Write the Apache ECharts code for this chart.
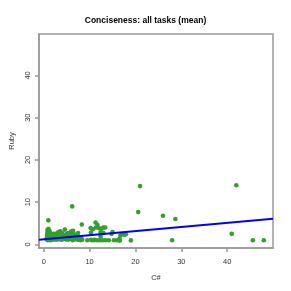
<!DOCTYPE html>
<html>
<head>
<meta charset="utf-8">
<script src="https://cdn.jsdelivr.net/npm/echarts@6/dist/echarts.min.js"></script>
<style>
html,body{margin:0;padding:0;background:#fff;}
#chart{width:291px;height:291px;}
</style>
</head>
<body>
<div id="chart"></div>
<script>
const titleText = 'Conciseness: all tasks (mean)';
const xName = 'C#';
const yName = 'Ruby';
const tickValues = [0, 10, 20, 30, 40];
const axisRange = [-1.06, 50.0];
const yAxisRange = [-0.85, 49.8];

// Ratio values per task: C# (x) and Ruby (y)
const csharp = [
  0.6,0.7,0.7,0.8,0.8,0.9,0.9,0.9,1.0,1.0,1.0,1.1,1.1,1.2,1.2,1.2,1.3,1.3,1.4,1.4,
  1.5,1.5,1.6,1.7,1.7,1.8,1.9,2.0,2.0,2.1,2.2,2.3,2.4,2.5,2.6,2.7,2.8,2.9,3.0,3.1,
  3.2,3.3,3.4,3.5,3.6,3.7,3.8,3.9,4.0,4.1,4.2,4.3,4.4,4.5,4.6,4.7,4.8,4.9,5.0,5.1,
  5.2,5.3,5.4,5.5,5.6,5.7,5.8,5.9,6.0,6.1,6.2,6.3,6.4,6.5,6.6,6.7,6.8,7.0,7.2,7.4,
  7.5,7.6,7.8,8.0,8.2,8.4,
  1.0,6.2,8.3,
  9.5,10.2,10.3,10.3,10.5,10.7,11.0,11.0,11.3,11.4,11.6,11.7,12.0,12.2,12.4,12.4,12.6,12.8,13.0,13.0,
  13.4,13.5,14.2,14.8,15.0,15.3,16.0,16.5,16.6,16.7,17.0,17.6,17.9,19.0,
  20.6,21.0,26.0,28.0,28.7,41.0,42.0,45.6,48.0
];
const ruby = [
  1.2,1.6,2.2,2.8,3.4,1.0,1.9,2.5,3.1,3.7,1.4,2.0,2.7,1.1,3.3,2.3,1.7,2.9,1.3,2.1,
  2.6,1.0,1.8,2.4,1.2,2.0,1.5,2.2,1.1,1.8,2.5,1.3,2.0,1.6,2.3,1.1,1.9,2.6,1.4,2.1,
  2.9,1.2,1.7,2.4,3.1,1.5,2.0,1.1,2.7,1.8,2.3,1.3,2.0,1.6,3.5,2.2,1.2,1.9,2.5,1.4,
  2.0,1.1,2.7,1.7,2.3,1.3,1.9,2.8,3.1,1.5,2.2,1.0,3.2,1.8,2.4,1.2,2.0,1.5,2.3,1.1,
  2.7,1.7,1.2,1.0,1.4,1.1,
  5.7,9.0,4.7,
  1.0,3.9,2.8,1.1,1.0,3.6,1.0,1.1,5.2,4.0,1.0,4.65,3.9,1.0,1.9,2.9,3.7,1.0,4.0,2.7,
  4.0,1.0,1.0,2.5,2.9,1.0,1.0,1.3,0.9,2.1,2.4,2.3,2.4,0.95,
  7.65,13.8,6.8,1.0,6.0,2.5,14.0,1.0,1.0
];
// Least-squares fit line: Ruby = intercept + slope * C#
const fitIntercept = 1.21;
const fitSlope = 0.097;

const points = csharp.map((v, i) => [v, ruby[i]]);
const fitLine = axisRange.map(x => [x, fitIntercept + fitSlope * x]);

const labelColor = '#333';
const axisColor = '#999';

const chart = echarts.init(document.getElementById('chart'), null, {renderer: 'canvas'});
chart.setOption({
  animation: false,
  backgroundColor: '#fff',
  title: {
    text: titleText,
    left: 'center',
    top: 11,
    textStyle: {fontFamily: 'Liberation Sans', fontSize: 8.5, fontWeight: 'bold', color: '#000'}
  },
  grid: {
    left: 33, right: 18, top: 34, bottom: 43,
    show: true, borderColor: axisColor, borderWidth: 1.5, backgroundColor: 'transparent'
  },
  xAxis: {
    type: 'value',
    min: axisRange[0], max: axisRange[1],
    name: xName, nameLocation: 'middle', nameGap: 26,
    nameTextStyle: {fontFamily: 'Liberation Sans', fontSize: 7.5, color: labelColor},
    splitLine: {show: false},
    axisLine: {show: true, onZero: false, lineStyle: {color: axisColor, width: 1.5}},
    axisTick: {show: true, length: 4, customValues: tickValues, lineStyle: {color: axisColor, width: 1.5}},
    axisLabel: {customValues: tickValues, margin: 10, fontFamily: 'Liberation Sans', fontSize: 7.5, color: labelColor}
  },
  yAxis: {
    type: 'value',
    min: yAxisRange[0], max: yAxisRange[1],
    name: yName, nameLocation: 'middle', nameGap: 16, nameRotate: 90,
    nameTextStyle: {fontFamily: 'Liberation Sans', fontSize: 7.5, color: labelColor},
    splitLine: {show: false},
    axisLine: {show: true, onZero: false, lineStyle: {color: axisColor, width: 1.5}},
    axisTick: {show: true, length: 4, customValues: tickValues, lineStyle: {color: axisColor, width: 1.5}},
    axisLabel: {customValues: tickValues, rotate: 90, margin: 7, fontFamily: 'Liberation Sans', fontSize: 7.5, color: labelColor}
  },
  series: [
    {
      type: 'scatter',
      data: points,
      symbol: 'circle',
      symbolSize: 4.6,
      itemStyle: {color: '#33a02c', opacity: 1},
      z: 2
    },
    {
      type: 'line',
      data: fitLine,
      showSymbol: false,
      lineStyle: {color: '#0000ff', width: 2},
      clip: true,
      z: 3
    }
  ]
});
</script>
</body>
</html>
